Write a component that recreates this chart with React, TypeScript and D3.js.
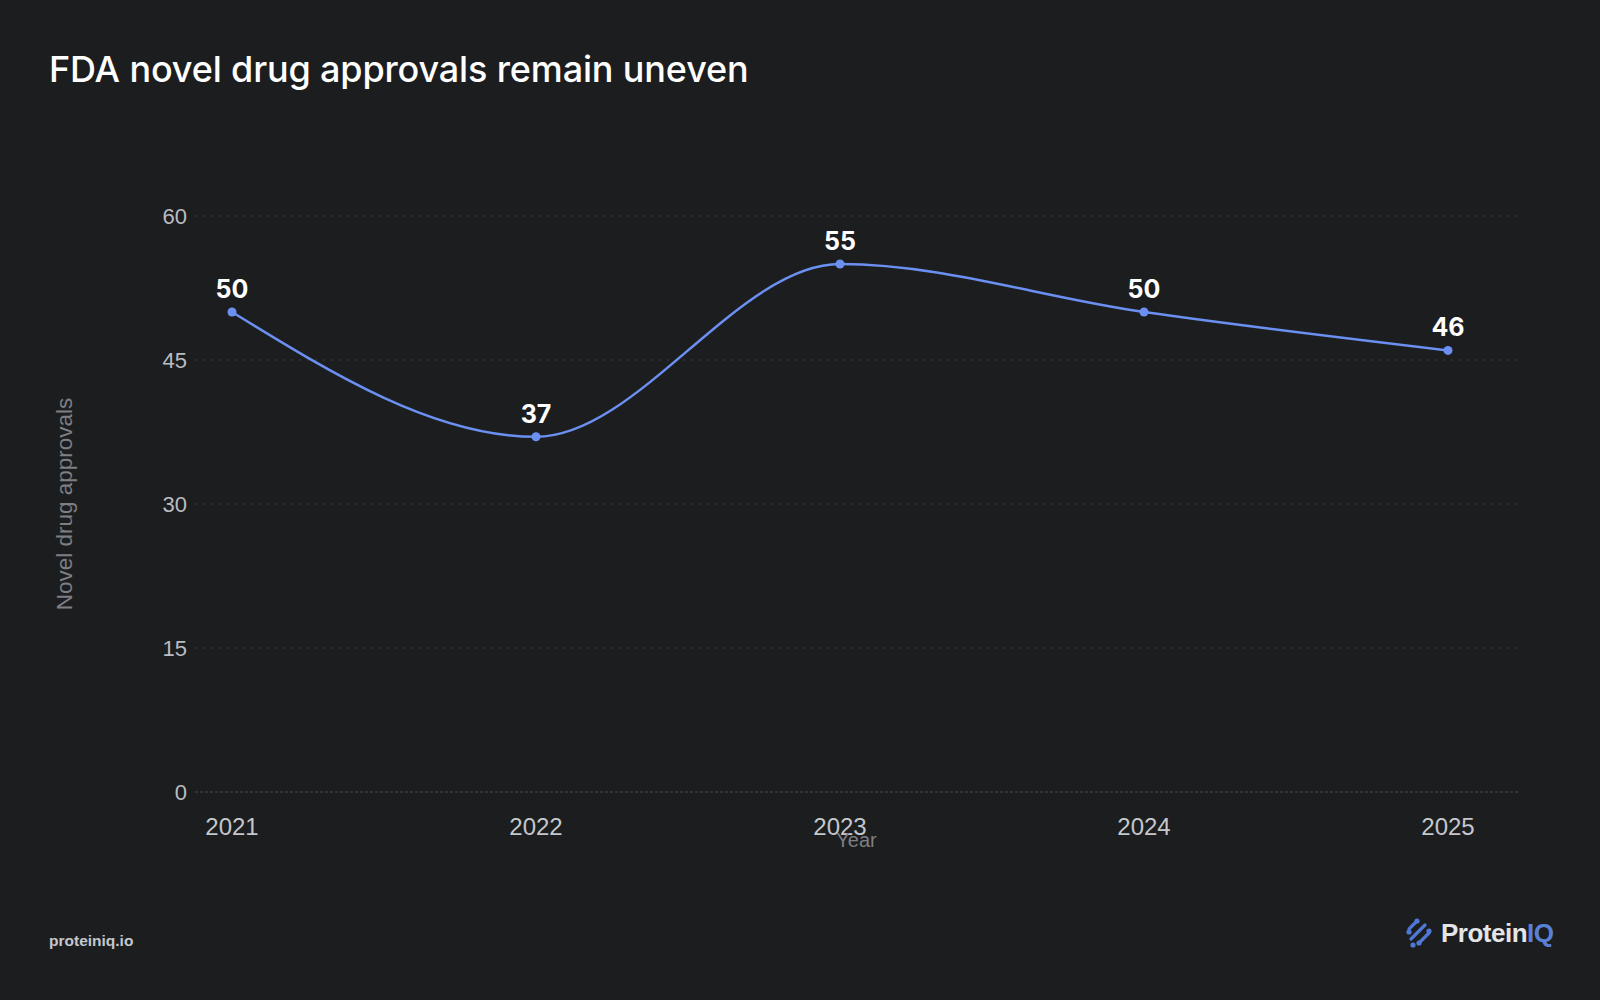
import React, { useEffect } from "react";
import * as d3 from "d3";

const years = ["2021", "2022", "2023", "2024", "2025"];
const approvals = [50, 37, 55, 50, 46];
const yTicks = [0, 15, 30, 45, 60];

const W = 1600;
const H = 1000;
const BG = "#1c1d1f";
const LINE = "#6b90f2";
const FONT = "'Liberation Sans', Arial, sans-serif";
const INTER = "Inter, 'Liberation Sans', sans-serif";

export default function App() {
  useEffect(() => {
    document.body.style.margin = "0";
    document.body.style.background = BG;
  }, []);

  const x = d3.scalePoint<string>().domain(years).range([232, 1448]);
  const y = d3.scaleLinear().domain([0, 60]).range([792, 216]);
  const gridX0 = 195;
  const gridX1 = 1518;

  const line = d3
    .line<number>()
    .x((_, i) => x(years[i]) as number)
    .y((d) => y(d))
    .curve(d3.curveMonotoneX);

  const logoX = 1407;
  const logoY = 919;

  return (
    <svg width={W} height={H} style={{ display: "block", background: BG }} fontFamily={FONT}>
      <rect width={W} height={H} fill={BG} />
      <text x={49} y={82} fill="#ffffff" fontSize={36} fontFamily={INTER} fontWeight={500} letterSpacing={-0.15}>
        FDA novel drug approvals remain uneven
      </text>

      {yTicks.map((t) => (
        <g key={t}>
          <line
            x1={gridX0}
            x2={gridX1}
            y1={y(t)}
            y2={y(t)}
            stroke={t === 0 ? "#4a4c50" : "#3e4044"}
            strokeWidth={1}
            strokeDasharray={t === 0 ? "3 2" : "2 6"}
          />
          <text x={187} y={y(t)} dy="0.35em" textAnchor="end" fill="#b9bcc2" fontSize={22}>
            {t}
          </text>
        </g>
      ))}

      {years.map((yr) => (
        <text key={yr} x={x(yr)} y={835} textAnchor="middle" fill="#c4c7cc" fontSize={24}>
          {yr}
        </text>
      ))}

      <text x={(gridX0 + gridX1) / 2} y={847} textAnchor="middle" fill="#7d7f84" fontSize={20}>
        Year
      </text>
      <text
        transform={`translate(72,504) rotate(-90)`}
        textAnchor="middle"
        fill="#7d7f84"
        fontSize={22.5}
      >
        Novel drug approvals
      </text>

      <path d={line(approvals) || ""} fill="none" stroke={LINE} strokeWidth={2.5} />
      {approvals.map((v, i) => (
        <g key={years[i]}>
          <circle cx={x(years[i])} cy={y(v)} r={4.5} fill={LINE} />
          <text
            x={x(years[i])}
            y={y(v) - 14}
            textAnchor="middle"
            fill="#ffffff"
            fontSize={25}
            fontFamily={INTER}
            fontWeight={700}
          >
            {v}
          </text>
        </g>
      ))}

      <text x={49} y={946} fill="#c4c7cc" fontSize={15.5} fontWeight={700}>
        proteiniq.io
      </text>

      <g transform={`translate(${logoX},${logoY})`} stroke="#4f78d6" strokeWidth={3.2} strokeLinecap="round" fill="#4f78d6">
        <line x1={2} y1={10} x2={10} y2={2} />
        <line x1={4} y1={20} x2={18} y2={6} />
        <line x1={12} y1={24} x2={22} y2={14} />
        <circle cx={2} cy={13} r={2.6} stroke="none" />
        <circle cx={10} cy={2} r={2.6} stroke="none" />
        <circle cx={6} cy={26} r={2.6} stroke="none" />
        <circle cx={22} cy={12} r={2.6} stroke="none" />
        <circle cx={12} cy={24} r={2.6} stroke="none" />
      </g>
      <text x={1441} y={942} fontSize={26} fontWeight={700} letterSpacing={-0.5}>
        <tspan fill="#e4e5e7">Protein</tspan>
        <tspan fill="#5a80d8">IQ</tspan>
      </text>
    </svg>
  );
}
